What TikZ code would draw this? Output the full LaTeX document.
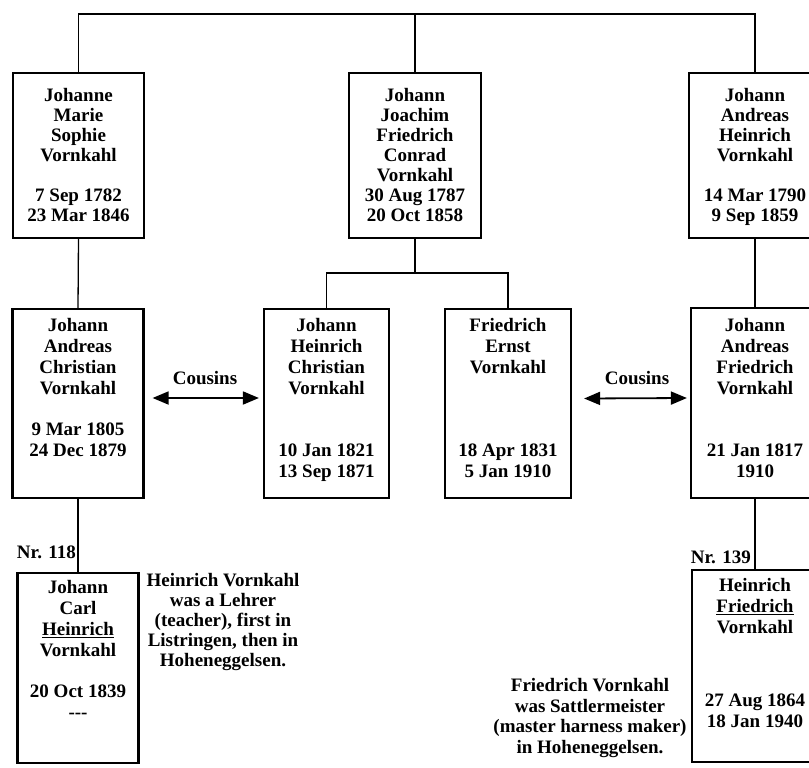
\documentclass[tikz,border=0pt]{standalone}
\usepackage{fontspec}
\setmainfont{Liberation Serif}
\usetikzlibrary{arrows.meta,calc}
\begin{document}
\begin{tikzpicture}[x=1pt,y=-1pt,
  person/.style={draw, line width=2.2pt, inner sep=0pt, minimum width=#1},
  conn/.style={line width=1.3pt},
  txt/.style={font=\fontsize{19}{#1}\selectfont\bfseries, align=center, inner sep=0pt, anchor=north, execute at begin node=\strut},
  lbl/.style={font=\fontsize{19}{20}\selectfont\bfseries, inner sep=0pt},
  cousin/.style={line width=1.8pt, {Triangle[length=16pt,width=13pt]}-{Triangle[length=16pt,width=13pt]}}
]
\useasboundingbox (0,0) rectangle (809,768);
\clip (0,0) rectangle (809,768);
\fill[white] (0,0) rectangle (809,768);

% row 1
\node[person=131pt, minimum height=165pt] (a1) at (78.5,155.5) {};
\node[person=132pt, minimum height=165pt] (b1) at (415,155.5) {};
\node[person=132pt, minimum height=165pt] (c1) at (755,155.5) {};
% row 2
\node[person=131pt, minimum height=189pt] (a2) at (78,403.5) {};
\node[person=125pt, minimum height=189pt] (b2) at (326.5,403.5) {};
\node[person=126pt, minimum height=189pt] (c2) at (508,403.5) {};
\node[person=128pt, minimum height=190pt] (d2) at (755,403) {};
% row 3
\node[person=121pt, minimum height=190pt] (a3) at (78,668) {};
\node[person=126pt, minimum height=192pt] (d3) at (755,666) {};

% texts
\node[txt=20pt] (ta1) at (78.5,88) {Johanne\\Marie\\Sophie\\Vornkahl\\[20pt]7 Sep 1782\\23 Mar 1846};
\node[txt=20pt] (tb1) at (415,88) {Johann\\Joachim\\Friedrich\\Conrad\\Vornkahl\\30 Aug 1787\\20 Oct 1858};
\node[txt=20pt] (tc1) at (755,88) {Johann\\Andreas\\Heinrich\\Vornkahl\\[20pt]14 Mar 1790\\9 Sep 1859};

\node[txt=20.8pt] (ta2) at (78,318.4) {Johann\\Andreas\\Christian\\Vornkahl\\[20.8pt]9 Mar 1805\\24 Dec 1879};
\node[txt=20.8pt] (tb2) at (326.5,318.4) {Johann\\Heinrich\\Christian\\Vornkahl\\[41.6pt]10 Jan 1821\\13 Sep 1871};
\node[txt=20.8pt] (tc2) at (508,318.4) {Friedrich\\Ernst\\Vornkahl\\[62.4pt]18 Apr 1831\\5 Jan 1910};
\node[txt=20.8pt] (td2) at (755,318.4) {Johann\\Andreas\\Friedrich\\Vornkahl\\[41.6pt]21 Jan 1817\\1910};

\node[txt=20.8pt] (ta3) at (78,580.4) {Johann\\Carl\\\underline{Heinrich}\\Vornkahl\\[20.8pt]20 Oct 1839\\-{}-{}-};
\node[txt=21pt] (td3) at (755,578.3) {Heinrich\\\underline{Friedrich}\\Vornkahl\\[52pt]27 Aug 1864\\18 Jan 1940};

% notes
\node[txt=20pt] (n1) at (223,573) {Heinrich Vornkahl\\was a Lehrer\\(teacher), first in\\Listringen, then in\\Hoheneggelsen.};
\node[txt=20.5pt] (n2) at (590,678.6) {Friedrich Vornkahl\\was Sattlermeister\\(master harness maker)\\in Hoheneggelsen.};

% connectors
\coordinate (t) at (0,14);
\draw[conn] (a1.north) -- (a1.north |- t) -- (c1.north |- t) -- (c1.north);
\draw[conn] (b1.north) -- (b1.north |- t);
\coordinate (m) at (0,273);
\draw[conn] (b1.south) -- (b1.south |- m);
\draw[conn] (b2.north) -- (b2.north |- m) -- (c2.north |- m) -- (c2.north);
\draw[conn] (a1.south) -- (a2.north);
\draw[conn] (c1.south) -- (d2.north);
\draw[conn] (a2.south) -- (a3.north);
\draw[conn] (d2.south) -- (d3.north);

% cousins
\draw[cousin] ([xshift=8pt,yshift=5.5pt]a2.east) -- ([xshift=-4pt,yshift=5.5pt]b2.west);
\draw[cousin] ([xshift=12pt,yshift=5pt]c2.east) -- ([xshift=-3pt,yshift=5pt]d2.west);
\node[lbl, anchor=base] (k1) at (205,384) {Cousins};
\node[lbl, anchor=base] (k2) at (637,384) {Cousins};

\node[lbl, anchor=base east] (nr1) at (76,558) {Nr. 118};
\node[lbl, anchor=base east] (nr2) at (751,563) {Nr. 139};
\end{tikzpicture}
\end{document}
